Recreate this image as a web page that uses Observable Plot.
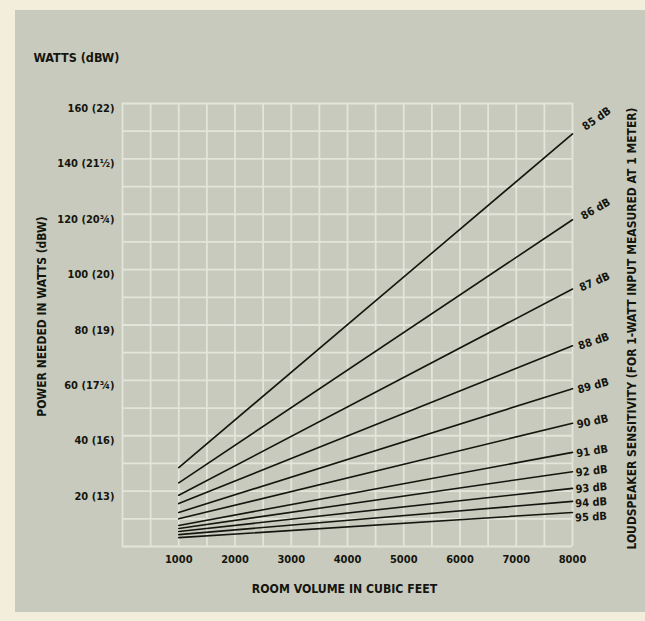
<!DOCTYPE html>
<html>
<head>
<meta charset="utf-8">
<script src="https://cdn.jsdelivr.net/npm/d3@7"></script>
<script src="https://cdn.jsdelivr.net/npm/@observablehq/plot@0.6"></script>
<style>
  html, body { margin: 0; padding: 0; }
  body { width: 645px; height: 621px; background: #f2eedb; position: relative; overflow: hidden; }
  #paper { position: absolute; left: 15px; top: 10px; width: 630px; height: 602px; background: #c7cabc; }
  #chart { position: absolute; left: 0; top: 0; }
</style>
</head>
<body>
<div id="paper"></div>
<div id="chart"></div>
<script>
// ---- data ----
const sensitivities = [85, 86, 87, 88, 89, 90, 91, 92, 93, 94, 95];
const sensitivityLabels = ["85 dB", "86 dB", "87 dB", "88 dB", "89 dB", "90 dB", "91 dB", "92 dB", "93 dB", "94 dB", "95 dB"];
const volumeStart = 1000;
const volumeEnd = 8000;
const wattsAt1000 = [28.5, 23, 18.5, 15.5, 12.3, 10, 7.6, 6.5, 5.4, 4.3, 3.2];
const wattsAt8000 = [149, 118, 93, 72.5, 57, 44.5, 34, 27, 21, 16.3, 12.3];
const yTicks = [20, 40, 60, 80, 100, 120, 140, 160];
const yTickLabels = ["20 (13)", "40 (16)", "60 (17¾)", "80 (19)", "100 (20)", "120 (20¾)", "140 (21½)", "160 (22)"];
const xTicks = [1000, 2000, 3000, 4000, 5000, 6000, 7000, 8000];
const yTitle = "WATTS (dBW)";
const yAxisTitle = "POWER NEEDED IN WATTS (dBW)";
const xAxisTitle = "ROOM VOLUME IN CUBIC FEET";
const rightTitle = "LOUDSPEAKER SENSITIVITY (FOR 1-WATT INPUT MEASURED AT 1 METER)";

// ---- layout ----
const W = 645, H = 621;
const mL = 122, mR = 73, mT = 103, mB = 75;
const xDomain = [0, 8000], yDomain = [0, 160];
const sx = d3.scaleLinear(xDomain, [mL, W - mR]);
const sy = d3.scaleLinear(yDomain, [H - mB, mT]);

const gridColor = "#e3e5da";
const ink = "#15150f";
const font = "'Liberation Sans Narrow', 'DejaVu Sans Condensed', 'Liberation Sans', sans-serif";

const lineData = sensitivities.flatMap((s, i) => [
  {s, v: volumeStart, w: wattsAt1000[i]},
  {s, v: volumeEnd, w: wattsAt8000[i]}
]);

// label placement: rotate along (slightly less than) the line, dodge vertically
const labelInfo = sensitivities.map((s, i) => {
  const x0 = sx(volumeStart), x1 = sx(volumeEnd);
  const y0 = sy(wattsAt1000[i]), y1 = sy(wattsAt8000[i]);
  const ang = Math.atan2(y0 - y1, x1 - x0) * 180 / Math.PI;
  const t = ang / 40;
  return {i, ang: -ang * 0.87, px: x1 + 18 + 6 * t, py: y1 - 15 * t * t};
});
for (let k = 1; k < labelInfo.length; k++) {
  labelInfo[k].py = Math.max(labelInfo[k].py, labelInfo[k - 1].py + 14.5);
}

const labelMarks = labelInfo.map(L => Plot.text([sensitivityLabels[L.i]], {
  x: volumeEnd, y: wattsAt8000[L.i], text: d => d,
  dx: L.px - sx(volumeEnd), dy: L.py - sy(wattsAt8000[L.i]),
  rotate: L.ang, textAnchor: "middle", lineAnchor: "middle",
  fontSize: 11, fontWeight: "bold", fill: ink
}));

const chart = Plot.plot({
  width: W, height: H,
  marginLeft: mL, marginRight: mR, marginTop: mT, marginBottom: mB,
  x: {domain: xDomain, axis: null},
  y: {domain: yDomain, axis: null},
  style: {background: "transparent", fontFamily: font, color: ink, overflow: "visible"},
  marks: [
    Plot.ruleX(d3.range(0, 8001, 500), {y1: 0, y2: 160, stroke: gridColor, strokeWidth: 1.8}),
    Plot.ruleY(d3.range(0, 161, 10), {x1: 0, x2: 8000, stroke: gridColor, strokeWidth: 1.8}),
    Plot.line(lineData, {x: "v", y: "w", z: "s", stroke: ink, strokeWidth: 1.6}),
    Plot.axisY({ticks: yTicks, tickSize: 0, tickPadding: 8, dy: 5, label: null,
      tickFormat: d => yTickLabels[yTicks.indexOf(d)], fontSize: 11, fontWeight: "bold", fill: ink}),
    Plot.axisX({ticks: xTicks, tickSize: 0, tickPadding: 9, label: null,
      tickFormat: d => String(d), fontSize: 11, fontWeight: "bold", fill: ink}),
    Plot.text([yTitle], {frameAnchor: "top-left", text: d => d, textAnchor: "start", lineAnchor: "middle",
      dx: 33 - mL, dy: 57 - mT, fontSize: 12.5, fontWeight: "bold", fill: ink}),
    Plot.text([yAxisTitle], {frameAnchor: "left", text: d => d, rotate: -90, textAnchor: "middle", lineAnchor: "middle",
      dx: 42 - mL, dy: 316 - (mT + H - mB) / 2, fontSize: 12, fontWeight: "bold", fill: ink}),
    Plot.text([xAxisTitle], {frameAnchor: "bottom", text: d => d, textAnchor: "middle", lineAnchor: "middle",
      dx: 344 - (mL + W - mR) / 2, dy: 43, fontSize: 12.2, fontWeight: "bold", fill: ink}),
    Plot.text([rightTitle], {frameAnchor: "right", text: d => d, rotate: -90, textAnchor: "middle", lineAnchor: "middle",
      dx: 632 - (W - mR), dy: 328 - (mT + H - mB) / 2, fontSize: 12, fontWeight: "bold", fill: ink}),
    ...labelMarks
  ]
});
document.getElementById("chart").appendChild(chart);
</script>
</body>
</html>
